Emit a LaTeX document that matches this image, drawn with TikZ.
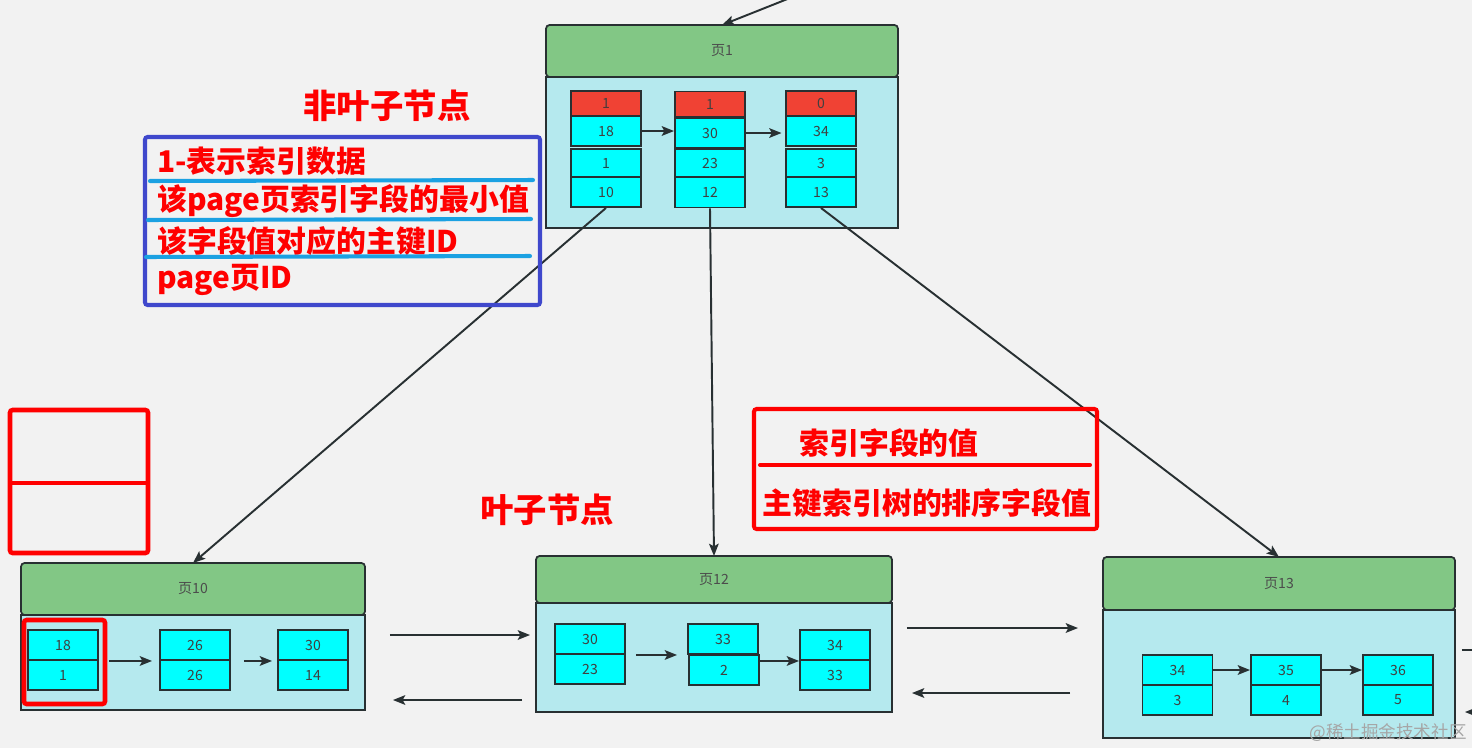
\documentclass[tikz,border=0pt]{standalone}
\usepackage{fontspec}
\setmainfont{Noto Sans CJK SC}
\usetikzlibrary{arrows.meta}

\definecolor{pagegreen}{RGB}{130,199,133}
\definecolor{bodycyan}{RGB}{181,233,238}
\definecolor{cellcyan}{RGB}{0,255,255}
\definecolor{flagred}{RGB}{240,66,52}
\definecolor{legendblue}{RGB}{63,72,204}
\definecolor{lineblue}{RGB}{27,161,226}
\definecolor{markred}{RGB}{255,0,0}
\definecolor{edgegray}{RGB}{40,48,50}

\begin{document}
\begin{tikzpicture}[
    x=0.02cm, y=-0.02cm,
    head/.style={rectangle, draw=edgegray, fill=pagegreen, line width=1pt,
                 rounded corners=2pt, inner sep=0, outer sep=0,
                 text=black!70, font=\fontsize{8}{9}\selectfont},
    body/.style={rectangle, draw=edgegray, fill=bodycyan, line width=1pt,
                 inner sep=0, outer sep=0},
    cell/.style={rectangle, draw=edgegray, fill=cellcyan, line width=1.1pt,
                 minimum width=1.4cm, minimum height=0.6cm, inner sep=0,
                 text=black!75, font=\fontsize{8}{9}\selectfont},
    flag/.style={cell, fill=flagred, minimum height=0.5cm},
    link/.style={->, >={Stealth[length=7pt, width=5.5pt, inset=1.5pt]},
                 line width=1.1pt, draw=edgegray},
    note/.style={text=markred, inner sep=0, font=\fontsize{17}{20}\selectfont\bfseries},
    title/.style={text=markred, inner sep=0, font=\fontsize{19}{22}\selectfont\bfseries},
    redframe/.style={draw=markred, line width=2.6pt, rounded corners=1.5pt}
]

    % Background
    \fill[black!5] (0,0) rectangle (1472,748);
    \useasboundingbox (0,0) rectangle (1472,748);

    % Page 1 (non-leaf)
    \node[body, minimum width=7.04cm, minimum height=3.02cm] (b1) at (722,152.5) {};
    \node[head, minimum width=7.04cm, minimum height=1.04cm] (h1) at (722,51) {页1};

    \node[flag] (t1a) at (606,103.5) {1};
    \node[cell] (t1b) at (606,131) {18};
    \node[cell, minimum height=0.56cm] (t1c) at (606,163) {1};
    \node[cell] (t1d) at (606,192) {10};

    \node[flag] (t2a) at (710,104) {1};
    \node[cell] (t2b) at (710,133) {30};
    \node[cell, minimum height=0.56cm] (t2c) at (710,163) {23};
    \node[cell] (t2d) at (710,192.5) {12};

    \node[flag] (t3a) at (821,103.5) {0};
    \node[cell] (t3b) at (821,131) {34};
    \node[cell, minimum height=0.56cm] (t3c) at (821,163) {3};
    \node[cell] (t3d) at (821,192) {13};

    \draw[link] (t1b.east) -- (t1b.east -| t2b.west);
    \draw[link, shorten >=2pt] (t2b.east) -- (t2b.east -| t3b.west);

    % Incoming arrow from above
    \coordinate (top) at (790,-2);
    \draw[link] (top) -- (h1.north);

    % Page 10 (leaf)
    \node[body, minimum width=6.88cm, minimum height=1.9cm] (b10) at (193,662.5) {};
    \node[head, minimum width=6.88cm, minimum height=1.04cm] (h10) at (193,589) {页10};

    \node[cell] (l10a1) at (63,645) {18};
    \node[cell] (l10a2) at (63,675) {1};
    \node[cell] (l10b1) at (195,645) {26};
    \node[cell] (l10b2) at (195,675) {26};
    \node[cell] (l10c1) at (313,645) {30};
    \node[cell] (l10c2) at (313,675) {14};

    \draw[link, shorten <=0.2cm, shorten >=0.14cm] (l10a1.south east) -- (l10b1.south west);
    \draw[link, shorten <=0.26cm, shorten >=0.1cm] (l10b1.south east) -- (l10c1.south west);

    % Page 12 (leaf)
    \node[body, minimum width=7.12cm, minimum height=2.18cm] (b12) at (714,657.5) {};
    \node[head, minimum width=7.12cm, minimum height=0.94cm] (h12) at (714,579.5) {页12};

    \node[cell] (l12a1) at (590,639) {30};
    \node[cell] (l12a2) at (590,669) {23};
    \node[cell] (l12b1) at (723,639) {33};
    \node[cell] (l12b2) at (724,670) {2};
    \node[cell] (l12c1) at (835,645) {34};
    \node[cell] (l12c2) at (835,675) {33};

    \draw[link, shorten <=0.2cm, shorten >=0.2cm] (l12a1.south east) -- (l12b1.south west);
    \draw[link] (l12c1.south west -| l12b2.east) -- (l12c1.south west);

    % Page 13 (leaf)
    \node[body, minimum width=7.04cm, minimum height=2.56cm] (b13) at (1279,674) {};
    \node[head, minimum width=7.04cm, minimum height=1.06cm] (h13) at (1279,583.5) {页13};

    \node[cell] (l13a1) at (1177.5,670) {34};
    \node[cell] (l13a2) at (1177.5,700) {3};
    \node[cell] (l13b1) at (1286,670) {35};
    \node[cell] (l13b2) at (1286,700) {4};
    \node[cell] (l13c1) at (1398,670) {36};
    \node[cell] (l13c2) at (1398,700) {5};

    \draw[link] (l13a1.east) -- (l13b1.west);
    \draw[link] (l13b1.east) -- (l13c1.west);

    % Arrows Page 1 -> leaves
    \draw[link] (t1d.south) -- (h10.north);
    \draw[link] (t2d.south) -- (h12.north);
    \draw[link] (t3d.south) -- (h13.north);

    % Links between leaves
    \draw[link, shorten <=0.5cm, shorten >=0.12cm] (b10.east |- 0,635) -- (b12.west |- 0,635);
    \draw[link, shorten <=0.28cm, shorten >=0.56cm] (b12.west |- 0,700) -- (b10.east |- 0,700);
    \draw[link, shorten <=0.3cm, shorten >=0.5cm] (b12.east |- 0,628) -- (b13.west |- 0,628);
    \draw[link, shorten <=0.66cm, shorten >=0.4cm] (b13.west |- 0,693) -- (b12.east |- 0,693);
    \coordinate (nextout) at (1490,650);
    \coordinate (nextin) at (1500,712);
    \draw[link, -, shorten <=0.14cm] (b13.east |- 0,650) -- (nextout);
    \draw[link, shorten >=0.2cm] (nextin) -- (b13.east |- 0,712);

    % Non-leaf legend
    \node[title] (nonleaf) at (387,106) {非叶子节点};
    \draw[legendblue, line width=2.3pt, rounded corners=1.5pt] (145,137) rectangle (540,305);
    \node[note, anchor=west] (n1) at (157,161) {1-表示索引数据};
    \node[note, anchor=west] (n2) at (157,201) {该page页索引字段的最小值};
    \node[note, anchor=west] (n3) at (157,241) {该字段值对应的主键ID};
    \node[note, anchor=west] (n4) at (157,280) {page页ID};
    \draw[lineblue, line width=2.3pt, line cap=round] (150,181) -- (533,180);
    \draw[lineblue, line width=2.3pt, line cap=round] (148,220) -- (531,219);
    \draw[lineblue, line width=2.3pt, line cap=round] (146,257) -- (530,256);

    % Leaf legend
    \node[title] (leaf) at (547,510) {叶子节点};
    \draw[redframe] (10,410) rectangle (148,553);
    \draw[redframe] (10,483) -- (148,483);
    \draw[redframe] (24,620) rectangle (105,704);

    \draw[redframe, line width=2.3pt] (754,409) rectangle (1097,529);
    \node[note] (k1) at (889,443) {索引字段的值};
    \draw[markred, line width=2.3pt, line cap=round] (760,465) -- (1090,465);
    \node[note] (k2) at (927,503) {主键索引树的排序字段值};

    % Watermark
    \node[text=black!35, font=\fontsize{10}{12}\selectfont] (wm) at (1388,733) {@稀土掘金技术社区};

\end{tikzpicture}
\end{document}
